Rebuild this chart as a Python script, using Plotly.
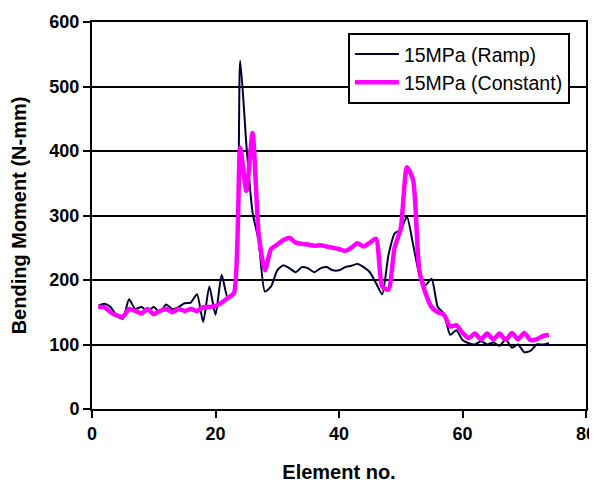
import plotly.graph_objects as go

elements = list(range(1, 75))

ramp = [160, 163, 158, 145, 140, 170, 155, 158, 152, 158,
        150, 162, 155, 158, 164, 165, 178, 135, 190, 146,
        208, 172, 180, 540, 410, 305, 260, 182, 190, 215,
        223, 218, 212, 220, 218, 212, 218, 220, 215, 215,
        220, 222, 225, 220, 212, 195, 178, 238, 272, 278,
        298, 255, 210, 192, 202, 158, 148, 115, 122, 107,
        102, 100, 105, 100, 103, 98, 108, 95, 100, 88,
        90, 100, 100, 102]

constant = [158, 158, 150, 145, 143, 155, 152, 148, 155, 147,
            152, 155, 150, 155, 152, 155, 152, 158, 158, 160,
            165, 172, 180, 405, 338, 428, 270, 215, 248, 255,
            262, 265, 258, 256, 255, 253, 254, 252, 250, 248,
            245, 250, 257, 252, 258, 264, 190, 185, 250, 280,
            375, 355, 215, 180, 158, 150, 146, 128, 130, 118,
            110, 117, 108, 117, 108, 117, 107, 118, 108, 118,
            107, 108, 113, 115]

x_ticks = [0, 20, 40, 60, 80]
y_ticks = [0, 100, 200, 300, 400, 500, 600]

FONT = "Liberation Sans, Arial, sans-serif"

fig = go.Figure()
fig.add_trace(go.Scatter(
    x=elements, y=ramp, mode="lines", name="15MPa (Ramp)",
    line=dict(color="#000033", width=2, shape="spline", smoothing=0.6)))
fig.add_trace(go.Scatter(
    x=elements, y=constant, mode="lines", name="15MPa (Constant)",
    line=dict(color="#FF00FF", width=4.5, shape="spline", smoothing=0.6)))

tick_font = dict(family=FONT, size=18, color="black")

fig.update_layout(
    width=589, height=483,
    margin=dict(l=84, r=11, t=14, b=82, autoexpand=False),
    paper_bgcolor="white", plot_bgcolor="white",
    showlegend=True,
    legend=dict(
        x=0.518, y=0.972, xanchor="left", yanchor="top",
        bgcolor="white", bordercolor="black", borderwidth=2,
        font=dict(family=FONT, size=19.5, color="black"),
        tracegroupgap=0, itemwidth=44,
    ),
    xaxis=dict(
        range=[0, 80], tickvals=x_ticks, ticktext=["<b>%d</b>" % v for v in x_ticks],
        showgrid=False, zeroline=False, automargin=False,
        showline=True, linecolor="black", linewidth=2, mirror=True,
        ticks="outside", ticklen=7, tickwidth=2, tickcolor="black",
        tickfont=tick_font,
        title=dict(text="<b>Element no.</b>", font=dict(family=FONT, size=20, color="black"), standoff=22),
    ),
    yaxis=dict(
        range=[0, 600], tickvals=y_ticks, ticktext=["<b>%d</b>" % v for v in y_ticks],
        showgrid=True, gridcolor="black", gridwidth=2, zeroline=False, automargin=False,
        showline=True, linecolor="black", linewidth=2, mirror=True,
        ticks="outside", ticklen=7, tickwidth=2, tickcolor="black",
        tickfont=tick_font,
        title=dict(text="<b>Bending Moment (N-mm)</b>", font=dict(family=FONT, size=20, color="black"), standoff=19),
    ),
)

fig.write_html("out.html")
